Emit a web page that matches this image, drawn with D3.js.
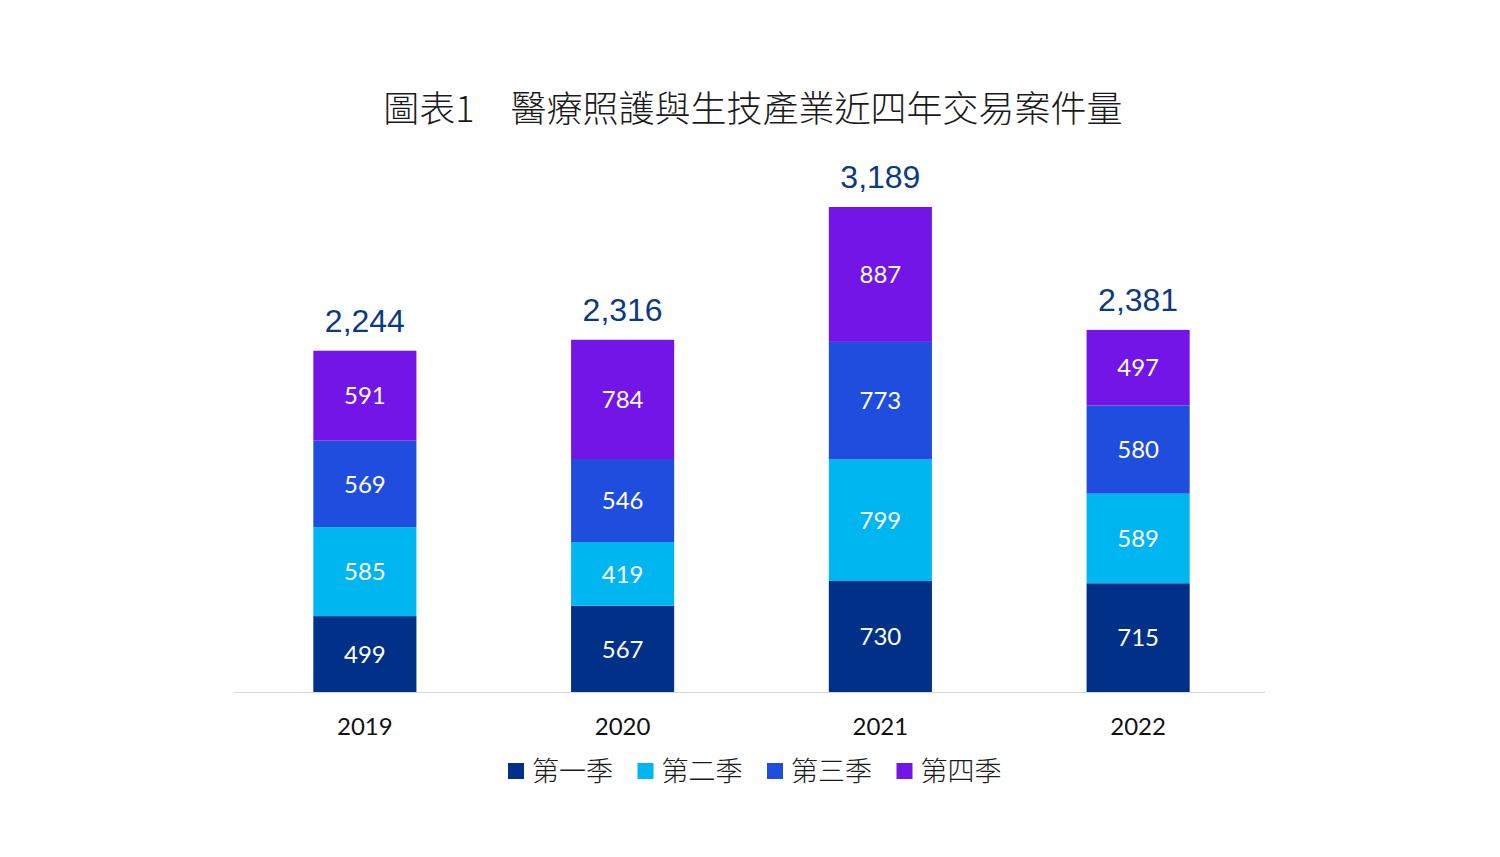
<!DOCTYPE html>
<html>
<head>
<meta charset="utf-8">
<script src="https://cdn.jsdelivr.net/npm/d3@7"></script>
<style>
  body { margin: 0; background: #fff; }
  svg text { font-family: Lato, "Noto Sans CJK TC", sans-serif; }
</style>
</head>
<body>
<svg id="chart" width="1500" height="857"></svg>
<script>
var years = ["2019", "2020", "2021", "2022"];
var seriesNames = ["第一季", "第二季", "第三季", "第四季"];
var q1 = [499, 567, 730, 715];
var q2 = [585, 419, 799, 589];
var q3 = [569, 546, 773, 580];
var q4 = [591, 784, 887, 497];
var totals = [2244, 2316, 3189, 2381];
var colors = ["#013088", "#00B6F0", "#1F4DDD", "#7215E6"];

var svg = d3.select("#chart");
var baseY = 692;

var rows = years.map(function(y, i) {
    return { year: y, q1: q1[i], q2: q2[i], q3: q3[i], q4: q4[i], total: totals[i] };
});
var keys = ["q1", "q2", "q3", "q4"];
var stacked = d3.stack().keys(keys)(rows);

var x = d3.scaleBand()
    .domain(years)
    .range([236, 1267])
    .paddingInner(0.6)
    .paddingOuter(0.3);

var y = d3.scaleLinear()
    .domain([0, 3189])
    .range([baseY, 207]);

// title
svg.append("text")
    .attr("x", 753).attr("y", 122)
    .attr("text-anchor", "middle")
    .style("font-family", "'Noto Sans CJK TC', sans-serif")
    .style("font-weight", 300)
    .style("font-size", "36px")
    .style("fill", "#1a1a1a")
    .text("圖表1　醫療照護與生技產業近四年交易案件量");

// bars
var layer = svg.selectAll(".layer")
    .data(stacked).enter().append("g")
    .attr("fill", function(d, i) { return colors[i]; });

layer.selectAll("rect")
    .data(function(d) { return d; })
    .enter().append("rect")
    .attr("x", function(d) { return x(d.data.year); })
    .attr("width", x.bandwidth())
    .attr("y", function(d) { return y(d[1]); })
    .attr("height", function(d) { return y(d[0]) - y(d[1]); });

layer.selectAll("text")
    .data(function(d) { return d; })
    .enter().append("text")
    .attr("x", function(d) { return x(d.data.year) + x.bandwidth() / 2; })
    .attr("y", function(d) { return (y(d[0]) + y(d[1])) / 2; })
    .attr("dy", "0.36em")
    .attr("text-anchor", "middle")
    .style("font-size", "24px")
    .style("fill", "#fff")
    .text(function(d) { return d[1] - d[0]; });

// totals
svg.selectAll(".total")
    .data(rows).enter().append("text")
    .attr("class", "total")
    .attr("x", function(d) { return x(d.year) + x.bandwidth() / 2; })
    .attr("y", function(d) { return y(d.total) - 19; })
    .attr("text-anchor", "middle")
    .style("font-family", "'Liberation Sans', Arial, sans-serif")
    .style("font-size", "32px")
    .style("fill", "#0B3A85")
    .text(function(d) { return d3.format(",")(d.total); });

// baseline axis
svg.append("line")
    .attr("x1", 234).attr("x2", 1265)
    .attr("y1", baseY + 0.5).attr("y2", baseY + 0.5)
    .attr("stroke", "#d9d9d9").attr("stroke-width", 1);

svg.selectAll(".year")
    .data(years).enter().append("text")
    .attr("class", "year")
    .attr("x", function(d) { return x(d) + x.bandwidth() / 2; })
    .attr("y", 735)
    .attr("text-anchor", "middle")
    .style("font-size", "24px")
    .style("fill", "#111")
    .text(function(d) { return d; });

// legend
var legend = svg.selectAll(".legend")
    .data(seriesNames).enter().append("g")
    .attr("class", "legend")
    .attr("transform", function(d, i) { return "translate(" + (508 + i * 129.5) + ",763)"; });

legend.append("rect")
    .attr("width", 16).attr("height", 16)
    .attr("fill", function(d, i) { return colors[i]; });

legend.append("text")
    .attr("x", 24).attr("y", 18)
    .style("font-family", "'Noto Sans CJK TC', sans-serif")
    .style("font-weight", 300)
    .style("font-size", "27px")
    .style("fill", "#1a1a1a")
    .text(function(d) { return d; });
</script>
</body>
</html>
